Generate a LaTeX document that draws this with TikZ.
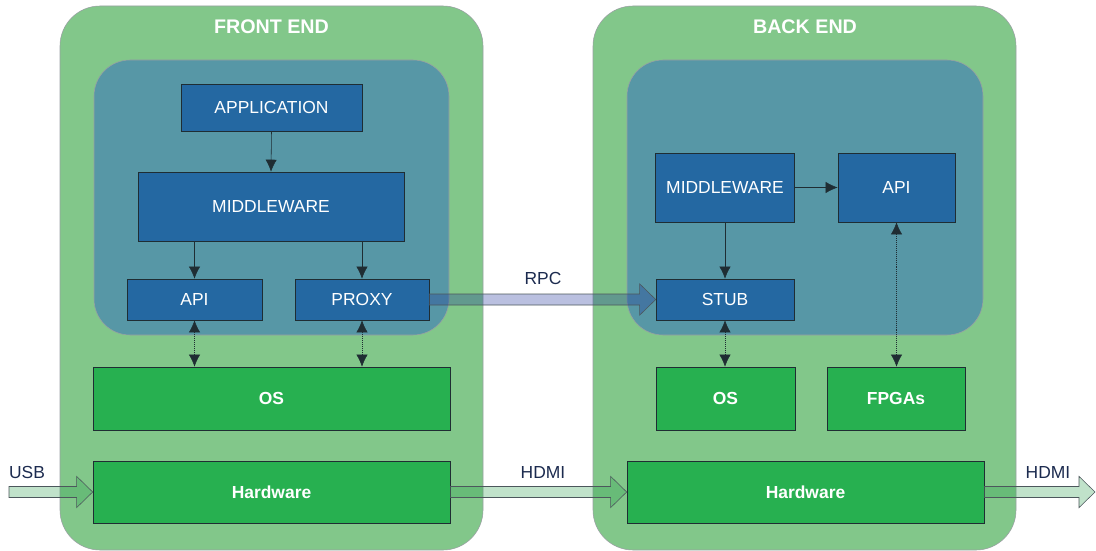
\documentclass[tikz,border=0pt]{standalone}
\usepackage{fontspec}
\setmainfont{Liberation Sans}
\usetikzlibrary{arrows.meta,calc}

\definecolor{outergreen}{HTML}{82C78A}
\definecolor{innerteal}{HTML}{5797A6}
\definecolor{boxblue}{HTML}{2468A2}
\definecolor{boxgreen}{HTML}{27B050}
\definecolor{labelnavy}{HTML}{1C2B4F}
\definecolor{edgedark}{HTML}{1F2D33}
\definecolor{rpcblue}{HTML}{1A3098}
\definecolor{linkgreen}{HTML}{2EA050}

\tikzset{
  swbox/.style={draw=edgedark, fill=boxblue, text=white, inner sep=0pt,
    font=\fontsize{12.4}{14}\selectfont},
  hwbox/.style={draw=edgedark, fill=boxgreen, text=white, inner sep=0pt,
    font=\fontsize{12.4}{14}\selectfont\bfseries},
  sidetitle/.style={text=white, font=\fontsize{14}{16}\selectfont\bfseries},
  linklabel/.style={text=labelnavy, font=\fontsize{12.4}{14}\selectfont},
  solidlink/.style={draw=edgedark, -{Latex[length=3mm,width=2.8mm]}},
  dotlink/.style={draw=edgedark, densely dotted,
    {Latex[length=3mm,width=2.8mm]}-{Latex[length=3mm,width=2.8mm]}},
  cablearrow/.style={draw=edgedark!80, fill=linkgreen, fill opacity=0.3},
  rpcarrow/.style={draw=edgedark!80, fill=rpcblue, fill opacity=0.3}
}

% Fat horizontal arrow from #2 to the tip #3.
\newcommand{\fatarrow}[3]{%
  \draw[#1] let \p1=(#2), \p2=(#3) in
    (\x1,\y1+0.1375cm) -- (\x2-0.4cm,\y1+0.1375cm) -- (\x2-0.4cm,\y1+0.39cm)
    -- (\x2,\y1) -- (\x2-0.4cm,\y1-0.39cm) -- (\x2-0.4cm,\y1-0.1375cm)
    -- (\x1,\y1-0.1375cm) -- cycle;}

\begin{document}
\begin{tikzpicture}[x=0.025cm,y=-0.025cm]
  \useasboundingbox (0,0) rectangle (1096,551);

  % Containers.
  \draw[draw=edgedark!45, fill=outergreen, rounded corners=1cm]
    (60,6) rectangle (483,550);
  \draw[draw=edgedark!45, fill=outergreen, rounded corners=1cm]
    (593,6) rectangle (1016,550);
  \draw[draw=edgedark!45, fill=innerteal, rounded corners=0.9cm]
    (94,60) rectangle (449,335);
  \draw[draw=edgedark!45, fill=innerteal, rounded corners=0.9cm]
    (627,60) rectangle (983,335);
  \node[sidetitle] (fetitle) at (271.5,27) {FRONT END};
  \node[sidetitle] (betitle) at (805,27) {BACK END};

  % Front end.
  \node[swbox, minimum width=4.525cm, minimum height=1.175cm] (app) at (271.5,107.5) {APPLICATION};
  \node[swbox, minimum width=6.65cm, minimum height=1.725cm] (mwf) at (271,206.5) {MIDDLEWARE};
  \node[swbox, minimum width=3.375cm, minimum height=1.025cm] (api) at (194.5,299.5) {API};
  \node[swbox, minimum width=3.35cm, minimum height=1.025cm] (proxy) at (362,299.5) {PROXY};
  \node[hwbox, minimum width=8.925cm, minimum height=1.575cm] (osf) at (271.5,398.5) {OS};
  \node[hwbox, minimum width=8.925cm, minimum height=1.55cm] (hwf) at (271.5,492) {Hardware};

  % Back end.
  \node[swbox, minimum width=3.475cm, minimum height=1.725cm] (mwb) at (725,187.5) {MIDDLEWARE};
  \node[swbox, minimum width=2.925cm, minimum height=1.725cm] (apib) at (896.5,187.5) {API};
  \node[swbox, minimum width=3.45cm, minimum height=1.025cm] (stub) at (725,299.5) {STUB};
  \node[hwbox, minimum width=3.475cm, minimum height=1.575cm] (osb) at (725.5,398.5) {OS};
  \node[hwbox, minimum width=3.45cm, minimum height=1.575cm] (fpga) at (896,398.5) {FPGAs};
  \node[hwbox, minimum width=8.925cm, minimum height=1.55cm] (hwb) at (805.5,492) {Hardware};

  % Calls inside the stacks.
  \draw[solidlink] (app.south) -- (mwf.north);
  \draw[solidlink] (api.north |- mwf.south) -- (api.north);
  \draw[solidlink] (proxy.north |- mwf.south) -- (proxy.north);
  \draw[solidlink] (mwb.east) -- (apib.west);
  \draw[solidlink] (mwb.south) -- (stub.north);
  \foreach \a/\b in {api/osf, proxy/osf, stub/osb, apib/fpga}
    \draw[dotlink] (\a.south) -- (\a.south |- \b.north);

  % Cables and the remote call.
  \coordinate (usbin) at (9,492);
  \coordinate (hdmiout) at (1095,492);
  \fatarrow{cablearrow}{usbin}{hwf.west}
  \fatarrow{cablearrow}{hwf.east}{hwb.west}
  \fatarrow{cablearrow}{hwb.east}{hdmiout}
  \fatarrow{rpcarrow}{proxy.east}{stub.west}
  \node[linklabel] (usb) at (27,472) {USB};
  \node[linklabel] (hdmi) at (543,472) {HDMI};
  \node[linklabel] (hdmib) at (1048,472) {HDMI};
  \node[linklabel] (rpc) at (543,278) {RPC};
\end{tikzpicture}
\end{document}
